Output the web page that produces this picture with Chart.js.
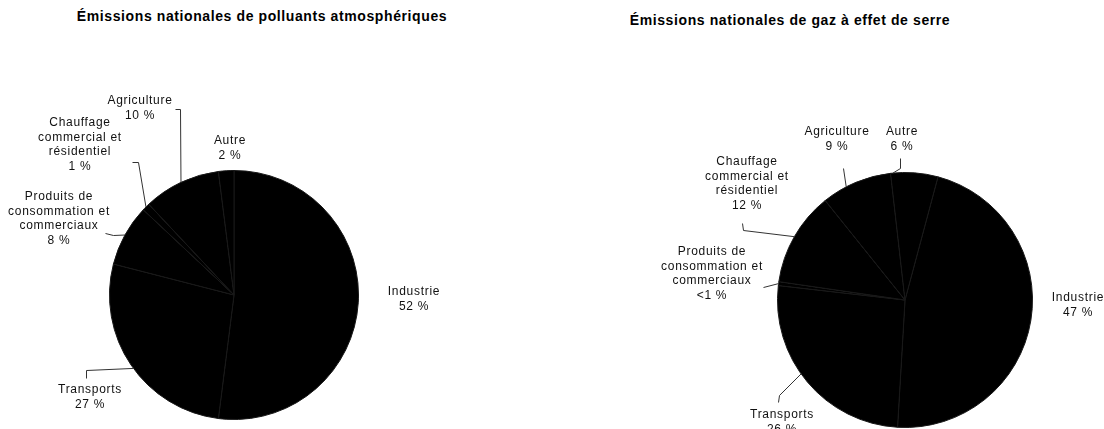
<!DOCTYPE html>
<html>
<head>
<meta charset="utf-8">
<script src="https://cdn.jsdelivr.net/npm/chart.js@4/dist/chart.umd.min.js"></script>
<style>
  body { margin: 0; background: #fff; }
  #wrap { position: relative; width: 1104px; height: 429px; overflow: hidden; }
  .box { position: absolute; top: 0; width: 552px; height: 429px; }
  .title { position: absolute; transform: translateX(-50%); white-space: nowrap;
           font: bold 14px "Liberation Sans", Arial, sans-serif; line-height: 14px; color: #000; letter-spacing: 0.6px; }
</style>
</head>
<body>
<div id="wrap">
  <div class="title" style="left:262px; top:9px;">Émissions nationales de polluants atmosphériques</div>
  <div class="title" style="left:790px; top:13px;">Émissions nationales de gaz à effet de serre</div>
  <div class="box" style="left:0"><canvas id="pie1" width="552" height="429"></canvas></div>
  <div class="box" style="left:552px"><canvas id="pie2" width="552" height="429"></canvas></div>
</div>
<script>
// categories, label text split into lines as in the original
const categories = [
  ['Industrie'],
  ['Transports'],
  ['Produits de', 'consommation et', 'commerciaux'],
  ['Chauffage', 'commercial et', 'résidentiel'],
  ['Agriculture'],
  ['Autre']
];

// polluants atmosphériques (%)
const polluantsValues = [52, 27, 8, 1, 10, 2];
const polluantsPct = ['52 %', '27 %', '8 %', '1 %', '10 %', '2 %'];

// gaz à effet de serre (%), "<1 %" drawn as 0.5
const gesValues = [47, 26, 0.5, 12, 9, 6];
const gesPct = ['47 %', '26 %', '<1 %', '12 %', '9 %', '6 %'];

// label placement relative to pie centre (px); path = leader points, the line ends on the slice edge
// at = where along the slice the leader touches (0..1, default middle)
const labelSetups = {
  pie1: {
    pct: polluantsPct,
    layout: [
      { dx: 180, dy: -3 },
      { dx: -144, dy: 95, at: 0.48, path: [[-148, 83], [-148, 75]] },
      { dx: -175, dy: -98, path: [[-129, -62], [-121, -60]] },
      { dx: -154, dy: -172, path: [[-102, -133], [-96, -133]] },
      { dx: -94, dy: -194, path: [[-59, -186], [-54, -186]] },
      { dx: -4, dy: -154 }
    ]
  },
  pie2: {
    pct: gesPct,
    layout: [
      { dx: 173, dy: -2 },
      { dx: -123, dy: 115, at: 0.55, path: [[-127, 102], [-126, 95]] },
      { dx: -193, dy: -48, path: [[-142, -13]] },
      { dx: -158, dy: -138, path: [[-163, -77], [-162, -70]] },
      { dx: -68, dy: -168, at: 0.35, path: [[-62, -132]] },
      { dx: -3, dy: -168, at: 0.05, path: [[-5, -142], [-5, -132]] }
    ]
  }
};

const leaderLabels = {
  id: 'leaderLabels',
  afterDraw(chart) {
    const setup = labelSetups[chart.canvas.id];
    const ctx = chart.ctx;
    const meta = chart.getDatasetMeta(0);
    ctx.save();
    ctx.strokeStyle = '#333';
    ctx.lineWidth = 1;
    ctx.fillStyle = '#111';
    ctx.font = '12px "Liberation Sans", Arial, sans-serif';
    ctx.letterSpacing = '0.7px';
    ctx.textAlign = 'center';
    ctx.textBaseline = 'middle';
    meta.data.forEach((arc, i) => {
      const p = arc.getProps(['x', 'y', 'startAngle', 'endAngle', 'outerRadius'], true);
      const L = setup.layout[i];
      if (L.path) {
        const f = (typeof L.at === 'number') ? L.at : 0.5;
        const a = p.startAngle + (p.endAngle - p.startAngle) * f;
        ctx.beginPath();
        ctx.moveTo(p.x + L.path[0][0] + 0.5, p.y + L.path[0][1] + 0.5);
        for (let k = 1; k < L.path.length; k++) {
          ctx.lineTo(p.x + L.path[k][0] + 0.5, p.y + L.path[k][1] + 0.5);
        }
        ctx.lineTo(p.x + Math.cos(a) * p.outerRadius, p.y + Math.sin(a) * p.outerRadius);
        ctx.stroke();
      }
      const lines = categories[i].concat([setup.pct[i]]);
      lines.forEach((t, k) => {
        ctx.fillText(t, p.x + L.dx, p.y + L.dy + k * 14.5);
      });
    });
    ctx.restore();
  }
};

function makePie(id, values, rotation, padding) {
  return new Chart(document.getElementById(id), {
    type: 'pie',
    data: {
      labels: categories.map(c => c.join(' ')),
      datasets: [{
        data: values,
        backgroundColor: '#000',
        borderColor: '#181818',
        borderWidth: 1
      }]
    },
    options: {
      responsive: false,
      animation: false,
      rotation: rotation,
      layout: { padding: padding },
      plugins: {
        legend: { display: false },
        tooltip: { enabled: false }
      }
    },
    plugins: [leaderLabels]
  });
}

makePie('pie1', polluantsValues, 0, { left: 109, right: 193, top: 170, bottom: 9 });
makePie('pie2', gesValues, 15, { left: 225, right: 71, top: 172, bottom: 1 });
</script>
</body>
</html>
